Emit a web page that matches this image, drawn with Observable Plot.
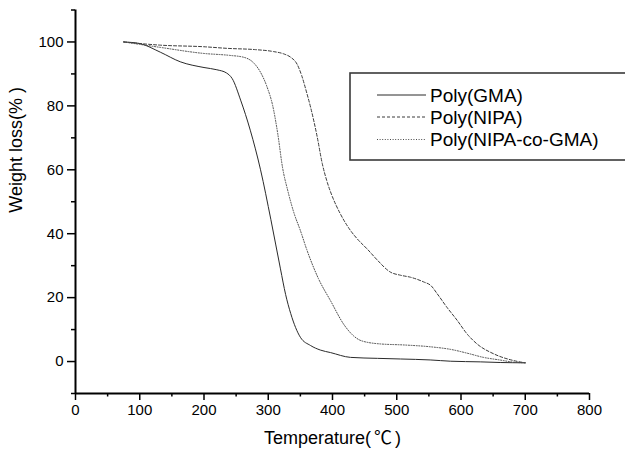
<!DOCTYPE html>
<html>
<head>
<meta charset="utf-8">
<script src="https://cdn.jsdelivr.net/npm/d3@7"></script>
<script src="https://cdn.jsdelivr.net/npm/@observablehq/plot@0.6"></script>
<style>
  html, body { margin: 0; padding: 0; background: #fff; }
  #chart svg { display: block; }
</style>
</head>
<body>
<div id="chart"></div>
<script>
// Thermogravimetric curves: residual weight (%) versus temperature (°C)
const seriesNames = ["Poly(GMA)", "Poly(NIPA)", "Poly(NIPA-co-GMA)"];

const gmaTemp   = [75, 100, 132, 163, 200, 220, 235, 244, 257, 272, 288, 304, 319, 327, 335, 350, 366, 381, 397, 428, 470, 506, 552, 584, 630, 661, 700];
const gmaWeight = [100, 99.5, 96.8, 93.8, 92.0, 91.3, 90.3, 88.5, 81.8, 72.4, 60, 44.5, 29, 21, 15, 7.6, 5, 3.6, 2.8, 1.3, 1.0, 0.8, 0.5, 0.1, -0.1, -0.3, -0.4];

const nipaTemp   = [75, 132, 200, 236, 280, 308, 325, 335, 345, 352, 360, 366, 376, 384, 392, 400, 412, 428, 438, 455, 470, 490, 506, 521, 542, 553, 563, 578, 594, 610, 625, 651, 682, 700];
const nipaWeight = [100, 99, 98.5, 98, 97.6, 97, 96.2, 95.2, 93, 89.5, 84, 79.5, 70.5, 62, 56, 51.5, 46.3, 41, 38.5, 35, 31.7, 28, 27, 26.4, 24.9, 23.8, 21.2, 17, 12.9, 8.5, 5.5, 2.4, 0.3, -0.4];

const coTemp   = [75, 132, 200, 240, 262, 278, 288, 298, 307, 315, 322, 331, 340, 350, 360, 378, 397, 418, 433, 445, 475, 510, 553, 584, 610, 635, 660, 682, 700];
const coWeight = [100, 98.3, 96.4, 95.8, 95.2, 93.3, 90.5, 86, 80, 71, 61, 53, 46.5, 41, 35, 26, 19, 11.5, 8, 6.5, 5.5, 5.2, 4.6, 3.8, 2.6, 1.3, 0.5, -0.2, -0.4];

const xDomain = [0, 800];
const yDomain = [-10, 110];
const xTicks = [0, 100, 200, 300, 400, 500, 600, 700, 800];
const xMinorTicks = [50, 150, 250, 350, 450, 550, 650, 750];
const yTicks = [0, 20, 40, 60, 80, 100];
const yMinorTicks = [-10, 10, 30, 50, 70, 90, 110];

const xTitle = "Temperature(℃)";
const yTitle = "Weight loss(% )";

// per-series line styles (solid, dashed, dotted)
const lineStyles = [
  { stroke: "#2a2a2a", dash: null },
  { stroke: "#3a3a3a", dash: "3,2" },
  { stroke: "#4a4a4a", dash: "1,1.6" }
];

const toRows = (temps, weights) => temps.map((t, i) => ({ t, w: weights[i] }));
const seriesRows = [
  toRows(gmaTemp, gmaWeight),
  toRows(nipaTemp, nipaWeight),
  toRows(coTemp, coWeight)
];

const fontFamily = "'Liberation Sans', Arial, Helvetica, sans-serif";

const curveMarks = seriesRows.map((rows, i) =>
  Plot.line(rows, {
    x: "t",
    y: "w",
    stroke: lineStyles[i].stroke,
    strokeWidth: 1,
    strokeDasharray: lineStyles[i].dash,
    curve: "monotone-x"
  })
);

const chart = Plot.plot({
  width: 625,
  height: 455,
  marginLeft: 75,
  marginRight: 36,
  marginTop: 9.5,
  marginBottom: 62,
  style: { fontFamily, fontSize: "15px", background: "#fff", color: "#000" },
  x: { domain: xDomain },
  y: { domain: yDomain },
  marks: [
    ...curveMarks,
    Plot.axisX(xTicks, { tickSize: 7, tickPadding: 4, strokeWidth: 1.5, fontSize: 15, label: null }),
    Plot.axisX(xMinorTicks, { tickSize: 3.5, strokeWidth: 1.5, tickFormat: () => "", label: null }),
    Plot.axisY(yTicks, { tickSize: 8, tickPadding: 4, strokeWidth: 1.5, fontSize: 15, label: null }),
    Plot.axisY(yMinorTicks, { tickSize: 4, strokeWidth: 1.5, tickFormat: () => "", label: null }),
    Plot.ruleY([yDomain[0]], { x1: xDomain[0], x2: xDomain[1], stroke: "#000", strokeWidth: 2 }),
    Plot.ruleX([xDomain[0]], { y1: yDomain[0], y2: yDomain[1], stroke: "#000", strokeWidth: 2 }),
    Plot.text([xTitle], { frameAnchor: "bottom", dy: 45, fontSize: 18, lineAnchor: "middle" }),
    Plot.text([yTitle], { frameAnchor: "left", dx: -59, dy: 11, rotate: -90, fontSize: 18, lineAnchor: "middle" })
  ]
});

document.getElementById("chart").appendChild(chart);

const svg = d3.select(chart);

// the degree-Celsius sign uses a CJK glyph with a little space on both sides
svg.selectAll("text").filter(function () { return this.textContent === xTitle; })
  .each(function () {
    const node = d3.select(this);
    node.text(null);
    node.append("tspan").text("Temperature(");
    node.append("tspan").attr("dx", 3).attr("font-family", "'Noto Sans CJK SC', sans-serif").text("℃");
    node.append("tspan").attr("dx", 3).text(")");
  });

// legend box, in the upper right of the plot area
const legend = svg.append("g")
  .attr("font-family", fontFamily)
  .attr("font-size", 19)
  .attr("text-anchor", "start");
legend.append("rect")
  .attr("x", 350).attr("y", 73)
  .attr("width", 320).attr("height", 87)
  .attr("fill", "#fff")
  .attr("stroke", "#3a3a3a")
  .attr("stroke-width", 1.6);

const rowY = [95, 117, 139.5];
seriesNames.forEach((name, i) => {
  legend.append("line")
    .attr("x1", 377).attr("x2", 426)
    .attr("y1", rowY[i]).attr("y2", rowY[i])
    .attr("stroke", lineStyles[i].stroke)
    .attr("stroke-width", 1)
    .attr("stroke-dasharray", lineStyles[i].dash);
  legend.append("text")
    .attr("x", 430).attr("y", rowY[i])
    .attr("dy", "0.35em")
    .attr("text-anchor", "start")
    .attr("fill", "#000")
    .text(name);
});
</script>
</body>
</html>
